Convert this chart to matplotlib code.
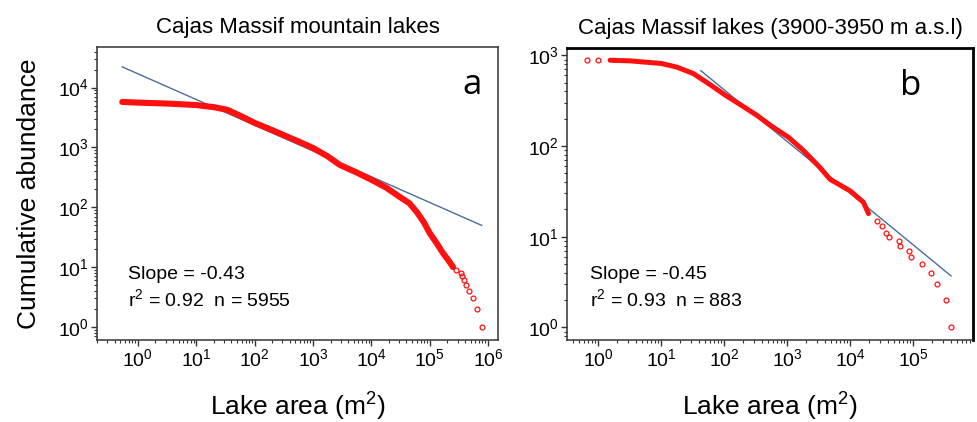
import numpy as np
import matplotlib
matplotlib.use("Agg")
import matplotlib.pyplot as plt
from matplotlib.ticker import LogLocator, NullFormatter

plt.rcParams['font.family'] = ['Liberation Sans', 'DejaVu Sans']
plt.rcParams['mathtext.fontset'] = 'custom'
plt.rcParams['mathtext.rm'] = 'Liberation Sans'
plt.rcParams['mathtext.it'] = 'Liberation Sans:italic'

a_band_area = [0.54, 1, 3.2, 10, 20, 34, 56, 100, 178, 309, 562, 1000, 1778,
               2884, 5623, 10000, 17783, 30903, 44668, 60256, 79433, 100000,
               131826, 169824, 208930, 251189]
a_band_count = [5750, 5600, 5400, 5100, 4700, 4250, 3400, 2570, 2040, 1620,
                1260, 980, 710, 510, 380, 288, 214, 148, 117, 83, 56, 37, 25,
                17, 13, 10]
a_tail_area = [282000, 347000, 355000, 380000, 417000, 468000, 562000, 646000, 776000]
a_tail_count = [9, 8, 7, 6, 5, 4, 3, 2, 1]
a_slope = -0.43
a_intercept_log = 4.23
a_fit_range = [0.54, 776000]

b_band_area = [1.55, 3.2, 10.2, 17.8, 32.4, 56.2, 105, 178, 331, 562, 1047,
               1820, 3311, 4786, 10000, 16218, 19498]
b_band_count = [883, 870, 813, 741, 630, 490, 363, 288, 218, 166, 125, 89,
                58, 43, 32, 24, 18]
b_iso_area = [0.66, 0.98]
b_iso_count = [883, 883]
b_tail_area = [26300, 31600, 36300, 40700, 58900, 61700, 85100, 91200,
               138000, 190500, 234400, 331100, 398100]
b_tail_count = [15, 13, 11, 10, 9, 8, 7, 6, 5, 4, 3, 2, 1]
b_slope = -0.57
b_intercept_log = 3.76
b_fit_range = [42.7, 398100]

titles = ["Cajas Massif mountain lakes", "Cajas Massif lakes (3900-3950 m a.s.l)"]
stats = [("Slope = -0.43", "r$^{2}$ = 0.92  n = 5955"),
         ("Slope = -0.45", "r$^{2}$ = 0.93  n = 883")]
panel_labels = ["a", "b"]

RED = "#ff1010"
BLUE = "#4a6d9c"

fig = plt.figure(figsize=(9.78, 4.22), dpi=100)
axa = fig.add_axes([0.0992, 0.194, 0.410, 0.695])
axb = fig.add_axes([0.580, 0.194, 0.415, 0.692])


def style(ax, thick_right=False):
    ax.set_xscale('log')
    ax.set_yscale('log')
    ax.xaxis.set_major_locator(LogLocator(base=10, numticks=20))
    ax.yaxis.set_major_locator(LogLocator(base=10, numticks=20))
    ax.xaxis.set_minor_locator(LogLocator(base=10, subs=np.arange(2, 10), numticks=20))
    ax.yaxis.set_minor_locator(LogLocator(base=10, subs=np.arange(2, 10), numticks=20))
    ax.xaxis.set_minor_formatter(NullFormatter())
    ax.yaxis.set_minor_formatter(NullFormatter())
    ax.tick_params(which='major', direction='out', length=4, width=1,
                   labelsize=14, pad=2, top=False, right=False, color='#333')
    ax.tick_params(which='minor', direction='out', length=2.5, width=0.8,
                   top=False, right=False, color='#333')
    ax.tick_params(axis='x', which='major', pad=2)
    for s in ax.spines.values():
        s.set_color('#333333')
        s.set_linewidth(1.1)
    if thick_right:
        for k in ('top', 'right'):
            ax.spines[k].set_color('black')
            ax.spines[k].set_linewidth(2.0)


# ---- Panel a ----
style(axa)
axa.set_xlim(10**-0.70, 10**6.17)
axa.set_ylim(10**-0.22, 10**4.68)
xf = np.array(a_fit_range)
axa.plot(xf, 10**a_intercept_log * xf**a_slope, color=BLUE, lw=1.0, zorder=2)
axa.plot(a_band_area, a_band_count, color=RED, lw=4.4, solid_capstyle='round', zorder=3)
axa.plot(a_tail_area, a_tail_count, ls='none', marker='o', ms=3.5, mfc='none',
         mec=RED, mew=0.9, zorder=3)
axa.set_title(titles[0], fontsize=16, pad=10)
axa.set_ylabel("Cumulative abundance", fontsize=19, labelpad=12)
axa.set_xlabel("Lake area (m$^{2}$)", fontsize=19, labelpad=15)
axa.text(0.078, 0.225, stats[0][0], transform=axa.transAxes, fontsize=14, va='center')
axa.text(0.078, 0.140, stats[0][1], transform=axa.transAxes, fontsize=14, va='center')
axa.text(0.935, 0.87, panel_labels[0], transform=axa.transAxes, fontsize=25,
         family=['Open Sans', 'DejaVu Sans'], ha='center', va='center')

# ---- Panel b ----
style(axb, thick_right=True)
axb.set_xlim(10**-0.49, 10**5.95)
axb.set_ylim(10**-0.14, 10**3.08)
xf = np.array(b_fit_range)
axb.plot(xf, 10**b_intercept_log * xf**b_slope, color=BLUE, lw=1.0, zorder=2)
axb.plot(b_band_area, b_band_count, color=RED, lw=3.6, solid_capstyle='round', zorder=3)
axb.plot(b_iso_area + b_tail_area, b_iso_count + b_tail_count, ls='none', marker='o',
         ms=3.5, mfc='none', mec=RED, mew=0.9, zorder=3)
axb.set_title(titles[1], fontsize=16, pad=10)
axb.set_xlabel("Lake area (m$^{2}$)", fontsize=19, labelpad=15)
axb.text(0.057, 0.225, stats[1][0], transform=axb.transAxes, fontsize=14, va='center')
axb.text(0.057, 0.140, stats[1][1], transform=axb.transAxes, fontsize=14, va='center')
axb.text(0.845, 0.87, panel_labels[1], transform=axb.transAxes, fontsize=25,
         family=['Open Sans', 'DejaVu Sans'], ha='center', va='center')

fig.savefig("out.png", dpi=100)
